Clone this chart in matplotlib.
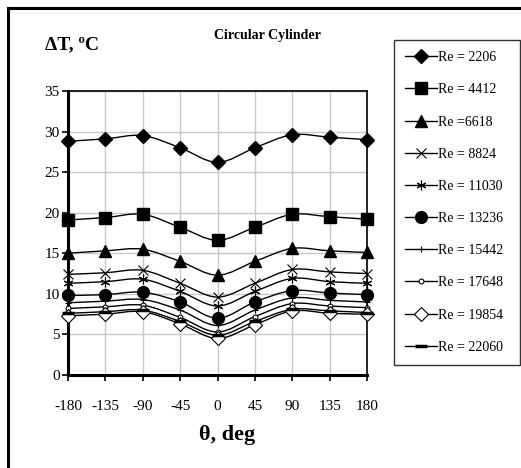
import matplotlib.pyplot as plt
from matplotlib.path import Path
from matplotlib.patches import PathPatch, Rectangle
from matplotlib.lines import Line2D

plt.rcParams["font.family"] = ["Liberation Serif", "DejaVu Serif"]
plt.rcParams["axes.unicode_minus"] = False

# angle around the cylinder, deg
theta = [-180, -135, -90, -45, 0, 45, 90, 135, 180]

re_labels = ["Re = 2206", "Re = 4412", "Re =6618", "Re = 8824", "Re = 11030",
             "Re = 13236", "Re = 15442", "Re = 17648", "Re = 19854", "Re = 22060"]

# temperature difference, deg C
dt_2206 = [28.8, 29.1, 29.5, 28.0, 26.2, 28.0, 29.6, 29.3, 29.0]
dt_4412 = [19.1, 19.4, 19.8, 18.2, 16.6, 18.2, 19.8, 19.5, 19.2]
dt_6618 = [15.0, 15.3, 15.5, 14.0, 12.3, 14.0, 15.6, 15.3, 15.1]
dt_8824 = [12.4, 12.6, 12.9, 11.3, 9.6, 11.3, 13.0, 12.7, 12.5]
dt_11030 = [11.3, 11.5, 11.8, 10.3, 8.5, 10.3, 11.9, 11.5, 11.3]
dt_13236 = [9.8, 9.9, 10.2, 9.0, 7.0, 9.0, 10.4, 10.1, 9.9]
dt_15442 = [8.9, 9.1, 9.3, 8.0, 6.1, 8.0, 9.5, 9.2, 9.0]
dt_17648 = [8.2, 8.4, 8.6, 7.1, 5.3, 7.2, 8.8, 8.5, 8.3]
dt_19854 = [7.3, 7.5, 7.8, 6.3, 4.5, 6.2, 7.9, 7.6, 7.5]
dt_22060 = [7.6, 7.8, 8.0, 6.6, 4.9, 6.6, 8.1, 7.9, 7.7]

all_series = [dt_2206, dt_4412, dt_6618, dt_8824, dt_11030,
              dt_13236, dt_15442, dt_17648, dt_19854, dt_22060]

# marker styles, excel-ish
styles = [
    dict(marker="D", ms=7, mfc="black", mec="black"),
    dict(marker="s", ms=8, mfc="black", mec="black"),
    dict(marker="^", ms=8, mfc="black", mec="black"),
    dict(marker="x", ms=7, mfc="black", mec="black", mew=0.8),
    dict(marker=(6, 2, 0), ms=7, mfc="black", mec="black", mew=0.8),
    dict(marker="o", ms=8.5, mfc="black", mec="black"),
    dict(marker="+", ms=5, mfc="black", mec="black", mew=0.8),
    dict(marker="o", ms=3.5, mfc="white", mec="black", mew=0.8),
    dict(marker="D", ms=7, mfc="white", mec="black", mew=0.8),
    dict(marker="_", ms=8, mfc="black", mec="black", mew=2.5),
]


def smooth_path(xs, ys):
    # excel-style smoothed line: cubic bezier between consecutive points
    pts = list(zip(xs, ys))
    n = len(pts)
    verts = [pts[0]]
    codes = [Path.MOVETO]
    for i in range(n - 1):
        p0 = pts[max(i - 1, 0)]
        p1 = pts[i]
        p2 = pts[i + 1]
        p3 = pts[min(i + 2, n - 1)]
        c1 = (p1[0] + (p2[0] - p0[0]) / 6, p1[1] + (p2[1] - p0[1]) / 6)
        c2 = (p2[0] - (p3[0] - p1[0]) / 6, p2[1] - (p3[1] - p1[1]) / 6)
        verts += [c1, c2, p2]
        codes += [Path.CURVE4] * 3
    return Path(verts, codes)


fig = plt.figure(figsize=(5.21, 4.68), dpi=100)
ax = fig.add_axes([0.1305, 0.1987, 0.574, 0.607])

handles = []
for vals, st, lab in zip(all_series, styles, re_labels):
    ax.add_patch(PathPatch(smooth_path(theta, vals), fill=False,
                           edgecolor="black", lw=1.0, zorder=3))
    ax.plot(theta, vals, ls="none", zorder=4, clip_on=False, **st)
    handles.append(Line2D([], [], color="black", lw=1.0, label=lab, **st))

ax.set_xlim(-180, 180)
ax.set_ylim(0, 35)
ax.set_xticks(theta)
ax.set_yticks(range(0, 36, 5))
ax.grid(True, color="#c8c8c8", lw=1.0)
ax.set_axisbelow(True)
ax.tick_params(axis="x", direction="out", length=4, width=1.2, pad=14,
               labelsize=11)
ax.tick_params(axis="y", direction="out", length=4, width=1.2, pad=2,
               labelsize=11)
for side in ["left", "bottom"]:
    ax.spines[side].set_linewidth(2.2)
for side in ["top", "right"]:
    ax.spines[side].set_linewidth(1.2)

fig.text(0.514, 0.925, "Circular Cylinder", ha="center", va="center",
         fontsize=10, fontweight="bold")
fig.text(0.086, 0.904, "ΔT, ºC", ha="left", va="center",
         fontsize=14, fontweight="bold")
fig.text(0.435, 0.07, "θ, deg", ha="center", va="center",
         fontsize=16, fontweight="bold")

leg = fig.legend(handles=handles, loc="upper left",
                 bbox_to_anchor=(0.756, 0.2244, 0.242, 0.69), mode="expand",
                 fontsize=10, frameon=True, fancybox=False, edgecolor="black",
                 handlelength=2.3, handletextpad=0.1, labelspacing=1.38,
                 borderpad=0.8, borderaxespad=0)
leg.get_frame().set_linewidth(1.0)

# outer frame of the original graphic (cropped on right and bottom)
fig.patches.append(Rectangle((0.0154, -0.2), 1.5, 0.983 + 0.2,
                             transform=fig.transFigure, fill=False,
                             edgecolor="black", lw=2.2))

fig.savefig("out.png", dpi=100)
